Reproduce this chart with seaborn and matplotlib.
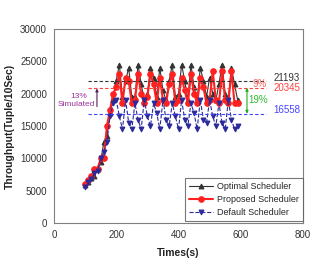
import matplotlib
import matplotlib.pyplot as plt
import pandas as pd
import seaborn as sns

matplotlib.use("Agg")

times = list(range(100, 600, 10))

optimal = [
    5900, 6400, 7000, 7200, 8300, 9500, 12500, 13500, 17000, 19000,
    22000, 24500, 19500, 22000, 24000, 19500, 19500, 24500, 21500, 19000,
    20000, 24000, 22500, 19500, 24000, 20500, 19000, 22000, 24500, 19500,
    20000, 24500, 22000, 19000, 24500, 21000, 19000, 24000, 22000, 19500,
    22500, 20000, 19000, 21500, 24500, 20000, 19000, 24000, 21500, 19000,
]
proposed = [
    6000, 6600, 7200, 8300, 8400, 10000, 10000, 15000, 17500, 20000,
    21000, 23000, 18500, 22500, 22000, 18500, 19000, 23000, 20000, 18500,
    19500, 23000, 21500, 18500, 22500, 19000, 18500, 21500, 23000, 18500,
    19000, 22500, 20500, 18500, 23000, 20000, 18500, 22500, 21000, 18500,
    19000, 23500, 19000, 18500, 23500, 19000, 18500, 23500, 18500, 18500,
]
default = [
    5500, 6300, 6800, 7700, 8000, 10000, 11000, 12500, 16500, 18500,
    19000, 16500, 14500, 19000, 15500, 14500, 18500, 16000, 14500, 19000,
    16500, 15000, 18500, 17000, 14500, 19000, 16000, 15000, 18500, 16500,
    14500, 19000, 16000, 15000, 18500, 17000, 14500, 19000, 16000, 15500,
    19000, 16500, 15000, 18500, 15500, 14500, 19000, 16000, 14500, 15000,
]

series_names = ["Optimal Scheduler", "Proposed Scheduler", "Default Scheduler"]
avg_levels = [22000, 20900, 16900]
avg_labels = ["21193", "20345", "16558"]

df = pd.DataFrame({
    "time": times * 3,
    "throughput": optimal + proposed + default,
    "scheduler": [n for n in series_names for _ in times],
})

sns.set_style("white")
plt.rcParams["font.family"] = ["Liberation Sans", "DejaVu Sans"]

fig = plt.figure(figsize=(3.19, 2.62), dpi=100)
ax = fig.add_axes([54 / 319, 39 / 262, 249 / 319, 194 / 262])

styles = {
    "Optimal Scheduler": dict(color="#333333", marker="^", lw=0.8, ls="-", ms=3.5),
    "Proposed Scheduler": dict(color="#ff2020", marker="o", lw=1.5, ls="-", ms=4),
    "Default Scheduler": dict(color="#2a2a9a", marker="v", lw=0.8, ls="--", ms=3.5),
}
for name in series_names:
    st = styles[name]
    sns.lineplot(
        data=df[df["scheduler"] == name], x="time", y="throughput", ax=ax,
        color=st["color"], marker=st["marker"], linewidth=st["lw"],
        linestyle=st["ls"], markersize=st["ms"], markeredgecolor=st["color"],
        label=name,
    )

ref_colors = ["#333333", "#ff4040", "#4444ff"]
text_y = [22400, 20850, 17450]
for level, lab, col, ty in zip(avg_levels, avg_labels, ref_colors, text_y):
    ax.plot([110, 682], [level, level], ls="--", lw=0.8, color=col, dashes=(3, 2))
    ax.text(705, ty, lab, color=col, fontsize=7, va="center", ha="left")

ax.text(638, 21500, "9%", color="#ff6060", fontsize=7, va="center", ha="left")
ax.annotate("", xy=(620, 20900), xytext=(620, 16900),
            arrowprops=dict(arrowstyle="<|-|>", color="#22aa22", lw=0.8,
                            mutation_scale=4, shrinkA=0, shrinkB=0))
ax.text(625, 19000, "19%", color="#33bb33", fontsize=7, va="center", ha="left")

ax.text(80, 19500, "13%", color="#993399", fontsize=6, va="center", ha="center")
ax.text(71, 18250, "Simulated", color="#993399", fontsize=6, va="center", ha="center")
ax.annotate("", xy=(138, 20800), xytext=(138, 18000),
            arrowprops=dict(arrowstyle="-|>", color="#552255", lw=0.8,
                            mutation_scale=4, shrinkA=0, shrinkB=0))

ax.set_xlim(0, 800)
ax.set_ylim(0, 30000)
ax.set_xticks([0, 200, 400, 600, 800])
ax.set_yticks([0, 5000, 10000, 15000, 20000, 25000, 30000])
ax.tick_params(direction="out", length=3, width=0.8, colors="#808080",
               labelcolor="#333333", labelsize=7, pad=2)
for sp in ax.spines.values():
    sp.set_color("#808080")
    sp.set_linewidth(0.8)

ax.set_xlabel("Times(s)", fontsize=7.5, fontweight="bold", color="#222222", labelpad=6)
ax.set_ylabel("Throughput(Tuple/10Sec)", fontsize=7.5, fontweight="bold",
              color="#222222", labelpad=4)

leg = ax.legend(loc="lower right", bbox_to_anchor=(1.0, 0.01), fontsize=6.5,
                frameon=True, fancybox=False, edgecolor="#555555",
                borderpad=0.45, labelspacing=0.45, handlelength=2.6,
                handletextpad=0.5, borderaxespad=0)
leg.get_frame().set_linewidth(0.8)

fig.savefig("out.png", dpi=100)
